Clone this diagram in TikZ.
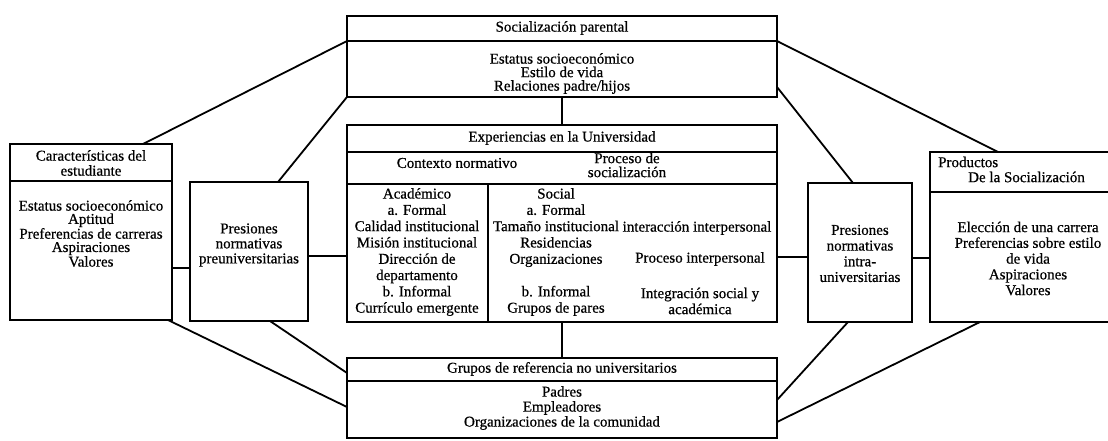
\documentclass[tikz,border=0pt]{standalone}
\usepackage{fontspec}
\setmainfont{Liberation Serif}[FakeBold=0.6]
\usetikzlibrary{calc}
\begin{document}
\begin{tikzpicture}[x=1pt,y=-1pt,
  box/.style={draw, line width=1.8pt, inner sep=0pt, outer sep=0pt},
  link/.style={line width=1.8pt},
  txt/.style={inner sep=0pt, align=center, font=\fontsize{15pt}{15pt}\selectfont},
]
\useasboundingbox (0,0) rectangle (1108,440);
\fill[white] (0,0) rectangle (1108,440);
\clip (0,0) rectangle (1108,440);

% ---------- boxes ----------
\node[box, minimum width=430pt, minimum height=81pt]  (top)    at (562,56.5)  {};
\node[box, minimum width=430pt, minimum height=197pt] (exp)    at (562,223.5) {};
\node[box, minimum width=430pt, minimum height=80pt]  (grupos) at (562,398)   {};
\node[box, minimum width=162pt, minimum height=176pt] (car)    at (91,232)    {};
\node[box, minimum width=118pt, minimum height=139pt] (pre)    at (249,251.5) {};
\node[box, minimum width=104pt, minimum height=139pt] (intra)  at (860,252.5) {};
\node[box, minimum width=196pt, minimum height=170pt] (prod)   at (1028,237)  {};

% ---------- inner dividers ----------
\draw[link] ([yshift=15.5pt]top.west) -- ([yshift=15.5pt]top.east);
\draw[link] ([yshift=71.5pt]exp.west) -- ([yshift=71.5pt]exp.east);
\draw[link] ([yshift=39.5pt]exp.west) -- ([yshift=39.5pt]exp.east);
\draw[link] ([xshift=141pt,yshift=39.5pt]exp.west) -- ([xshift=141pt]exp.south west);
\draw[link] ([yshift=17pt]grupos.west) -- ([yshift=17pt]grupos.east);
\draw[link] ([yshift=51pt]car.west) -- ([yshift=51pt]car.east);
\draw[link] ([yshift=45pt]prod.west) -- ([yshift=45pt]prod.east);

% ---------- straight connectors ----------
\draw[link] (top.south) -- (exp.north);
\draw[link] (exp.south) -- (grupos.north);
\draw[link] ([yshift=-36pt]car.east) coordinate (c1) -- (c1 -| pre.west);
\draw[link] ([yshift=-4.5pt]pre.east) coordinate (c2) -- (c2 -| exp.west);
\draw[link] ([yshift=-33.5pt]exp.east) coordinate (c3) -- (c3 -| intra.west);
\draw[link] ([yshift=-5.5pt]intra.east) coordinate (c4) -- (c4 -| prod.west);

% ---------- diagonal connectors ----------
\draw[link] ([yshift=15.5pt]top.west) -- ([xshift=52pt]car.north);
\draw[link] (top.south west) -- ([xshift=29pt]pre.north);
\draw[link] ([yshift=15.5pt]top.east) -- ([xshift=-30pt]prod.north);
\draw[link] ([yshift=-30.5pt]top.east) -- ([xshift=-7pt]intra.north);
\draw[link] ([xshift=77pt]car.south) -- ([yshift=-9pt]grupos.west);
\draw[link] ([xshift=21pt]pre.south) -- ([yshift=25pt]grupos.west);
\draw[link] ([xshift=-12pt]intra.south) -- ([yshift=-2pt]grupos.east);
\draw[link] ([xshift=-48pt]prod.south) -- ([yshift=-24pt]grupos.east);

% ---------- texts ----------
\node[txt] (t-top-h) at (562,28) {Socialización parental};
\node[txt, font=\fontsize{15pt}{13.5pt}\selectfont] (t-top-b) at (562,73.5)
  {Estatus socioeconómico\\Estilo de vida\\Relaciones padre/hijos};

\node[txt] (t-exp-h) at (562,138) {Experiencias en la Universidad};
\node[txt] (t-ctx) at (457,163) {Contexto normativo};
\node[txt, font=\fontsize{15pt}{14pt}\selectfont] (t-proc) at (627,165) {Proceso de\\socialización};
\node[txt, font=\fontsize{15pt}{16.3pt}\selectfont] (t-acad) at (417,252)
  {Académico\\a. Formal\\Calidad institucional\\Misión institucional\\Dirección de\\departamento\\b. Informal\\Currículo emergente};
\node[txt, font=\fontsize{15pt}{16.3pt}\selectfont] (t-soc) at (556,252)
  {Social\\a. Formal\\Tamaño institucional\\Residencias\\Organizaciones\\\mbox{}\\b. Informal\\Grupos de pares};
\node[txt] (t-int1) at (697,228) {interacción interpersonal};
\node[txt] (t-int2) at (700,259) {Proceso interpersonal};
\node[txt, font=\fontsize{15pt}{16pt}\selectfont] (t-int3) at (700,301) {Integración social y\\académica};

\node[txt] (t-car-h) at (91,163) {Características del\\estudiante};
\node[txt, font=\fontsize{15pt}{13.3pt}\selectfont] (t-car-b) at (91,233.5)
  {Estatus socioeconómico\\Aptitud\\Preferencias de carreras\\Aspiraciones\\Valores};

\node[txt] (t-pre) at (249,245) {Presiones\\normativas\\preuniversitarias};
\node[txt, font=\fontsize{15pt}{15.7pt}\selectfont] (t-intra) at (860,253.5)
  {Presiones\\normativas\\intra-\\universitarias};

\node[txt, anchor=west] (t-prod-h1) at (938,162) {Productos};
\node[txt, anchor=west] (t-prod-h2) at (968,177) {De la Socialización};
\node[txt, font=\fontsize{15pt}{15.75pt}\selectfont] (t-prod-b) at (1028,258.5)
  {Elección de una carrera\\Preferencias sobre estilo\\de vida\\Aspiraciones\\Valores};

\node[txt] (t-gr-h) at (562,369) {Grupos de referencia no universitarios};
\node[txt] (t-gr-b) at (562,408) {Padres\\Empleadores\\Organizaciones de la comunidad};
\end{tikzpicture}
\end{document}
